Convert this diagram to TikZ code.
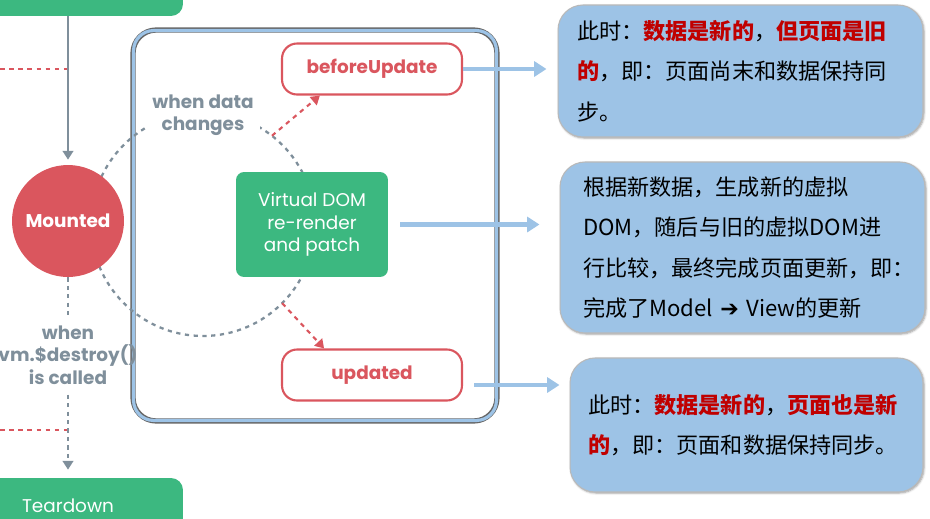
\documentclass[tikz,border=0pt]{standalone}
\usepackage{fontspec}
\usepackage{xcolor}
\setmainfont{Poppins}
\newfontfamily\cjk{Noto Sans CJK SC}
\newfontfamily\symb{DejaVu Sans}
\usetikzlibrary{arrows.meta,calc,shadows.blur}
\definecolor{vuegreen}{RGB}{60,184,128}
\definecolor{vuered}{RGB}{218,86,94}
\definecolor{slate}{RGB}{127,143,155}
\definecolor{skyblue}{RGB}{157,195,230}
\definecolor{alertred}{RGB}{192,0,0}
\newcommand{\hot}[1]{{\color{alertred}\bfseries #1}}
\tikzset{
	vuefont/.style={font=\fontsize{10.5pt}{12.6pt}\selectfont},
	greenbox/.style={vuefont, fill=vuegreen, text=white, rounded corners=0.24cm,
			minimum width=4.6cm, minimum height=1.12cm},
	mounted/.style={vuefont, font=\fontsize{10.5pt}{12.6pt}\selectfont\bfseries,
			circle, fill=vuered, text=white, minimum size=2.24cm},
	hookbox/.style={vuefont, font=\fontsize{10.5pt}{12.6pt}\selectfont\bfseries,
			draw=vuered, line width=1.2pt, fill=white, text=vuered, rounded corners=0.3cm,
			minimum width=3.6cm, minimum height=1.02cm},
	vdom/.style={vuefont, fill=vuegreen, text=white, align=center, rounded corners=0.16cm,
			minimum width=3.04cm, minimum height=2.1cm},
	caption/.style={font=\fontsize{10.5pt}{12.8pt}\selectfont\bfseries, text=slate, align=center},
	frame/.style={draw=gray!80!black, line width=3pt, rounded corners=0.46cm,
			minimum width=7.28cm, minimum height=7.82cm},
	bluerim/.style={draw=skyblue, line width=1.8pt, rounded corners=0.4cm},
	infobox/.style={font=\cjk\fontsize{12.6pt}{23pt}\selectfont, align=left,
			fill=skyblue, draw=gray!55, line width=0.6pt, rounded corners=0.5cm,
			blur shadow={shadow xshift=0.6pt, shadow yshift=-0.6pt, shadow blur radius=1.2pt}},
	flow/.style={draw=slate, line width=1.2pt, -{Triangle[width=6pt,length=5pt]}},
	flowdots/.style={draw=slate, line width=1.2pt, dash pattern=on 2.4pt off 2.4pt},
	loopline/.style={draw=slate, line width=1.3pt, dash pattern=on 2.4pt off 2.6pt},
	hookline/.style={draw=vuered, line width=1.2pt, dash pattern=on 2.6pt off 2.6pt},
	hookarrow/.style={hookline, -{Triangle[width=6pt,length=5pt]}},
	syncarrow/.style={draw=skyblue, line width=2.8pt, -{Triangle[width=8.5pt,length=7pt]}}
}
\begin{document}
\begin{tikzpicture}[x=0.02cm, y=-0.02cm]
	\useasboundingbox (0,0) rectangle (930,518);
	\clip (0,0) rectangle (930,518);

	\node[greenbox] (created) at (68,-12) {};
	\node[greenbox] (teardown) at (68,506) {Teardown};

	\node[frame] (updatebox) at (315,225.5) {};
	\draw[bluerim] ([shift={(1.8pt,1.8pt)}]updatebox.south west) rectangle ([shift={(-1.8pt,-1.8pt)}]updatebox.north east);

	\coordinate (loop) at (203,224);
	\draw[loopline] (loop) circle (2.24cm);

	\node[mounted] (mounted) at (68,221) {Mounted};
	\node[caption, fill=white, inner xsep=0.12cm, inner ysep=0.08cm] (datachange) at (203,115) {when data\\changes};
	\node[vdom] (vdom) at (312,224.5) {Virtual DOM\\re-render\\and patch};
	\node[hookbox] (before) at (372,69) {beforeUpdate};
	\node[hookbox] (updated) at (372,375) {updated};
	\node[caption, inner ysep=0.2cm] (destroy) at (68,355) {when\\vm.\$destroy()\\is called};

	\coordinate (hookA) at (0,69);
	\coordinate (hookB) at (0,430);
	\draw[hookline] (hookA) -- (hookA -| created);
	\draw[hookline] (hookB) -- (hookB -| teardown);

	\draw[flow, shorten >=0.1cm] (created) -- (mounted);
	\draw[flowdots] (mounted) -- (destroy);
	\draw[flowdots, -{Triangle[width=6pt,length=5pt]}, shorten >=0.16cm] (destroy) -- (teardown);

	\draw[hookarrow] ($(loop)+(52:2.24cm)$) -- (before.207);
	\draw[hookarrow] ($(loop)+(-45:2.24cm)$) -- (updated.151);

	\node[infobox, minimum width=7.3cm, minimum height=2.64cm, text width=6.54cm, inner xsep=0.38cm] (info1) at (740.5,71)
		{此时：\hot{数据是新的}，\hot{但页面是旧}\\\hot{的}，即：页面尚末和数据保持同\\步。};
	\node[infobox, minimum width=7.3cm, minimum height=3.42cm, text width=6.38cm, inner xsep=0.46cm] (info2) at (742.5,247.5)
		{根据新数据，生成新的虚拟\\DOM，随后与旧的虚拟DOM进\\行比较，最终完成页面更新，即：\\完成了Model {\symb ➔} View的更新};
	\node[infobox, minimum width=7.06cm, minimum height=2.68cm, text width=6.34cm, inner xsep=0.36cm] (info3) at (746.5,425)
		{此时：\hot{数据是新的}，\hot{页面也是新}\\\hot{的}，即：页面和数据保持同步。};

	\draw[syncarrow, shorten >=0.22cm] (before.east) -- (before.east -| info1.west);
	\draw[syncarrow, shorten <=0.24cm, shorten >=0.4cm] (vdom.east) -- (vdom.east -| info2.west);
	\draw[syncarrow, shorten <=0.22cm, shorten >=0.2cm] ([yshift=-0.2cm]updated.east) -- ([yshift=-0.2cm]updated.east -| info3.west);
\end{tikzpicture}
\end{document}
